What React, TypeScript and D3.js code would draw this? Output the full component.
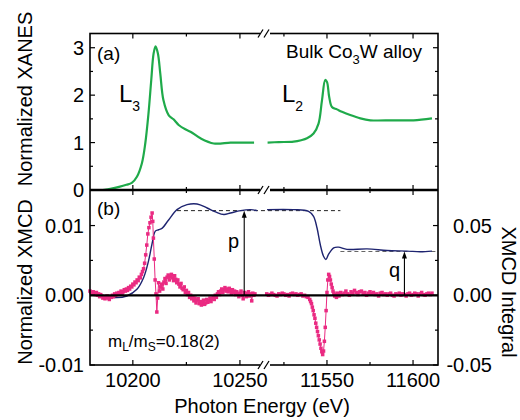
import React from "react";
import * as d3 from "d3";

// ---------- data ----------
// (a) XANES, L3 edge (left segment) and L2 edge (right segment)
const xanesL3: [number, number][] = [
  [10186, 0.0], [10190, 0.03], [10194, 0.07], [10197, 0.11], [10199.5, 0.15], [10201.9, 0.28],
  [10204.2, 0.56], [10205.8, 0.98], [10207.3, 1.61], [10208.6, 2.32], [10209.7, 2.88],
  [10210.6, 3.03], [10211.7, 2.88], [10212.8, 2.46], [10214.3, 1.89], [10216.7, 1.58],
  [10219, 1.49], [10221.4, 1.37], [10224.5, 1.28], [10226.9, 1.23], [10231.6, 1.09],
  [10237.8, 0.98], [10245.6, 1.0], [10251, 1.0], [10256.6, 1.0],
];
const xanesL2: [number, number][] = [
  [11515.5, 1.0], [11522, 1.01], [11530.6, 1.02], [11535, 1.05], [11538.4, 1.09], [11542.2, 1.19],
  [11545.1, 1.4], [11547.1, 1.89], [11549, 2.32], [11550, 2.28], [11551.3, 1.96],
  [11552.9, 1.75], [11555.8, 1.7], [11558.7, 1.65], [11563.5, 1.58], [11569.4, 1.51],
  [11575.2, 1.47], [11588.7, 1.47], [11600.3, 1.47], [11611, 1.51],
];

// (b) XMCD integral (right axis)
const integL3: [number, number][] = [
  [10187.8, -0.0005], [10192.5, -0.0017], [10197.2, -0.0005], [10201.9, 0.0043], [10205, 0.0126],
  [10207.3, 0.0245], [10208.9, 0.0364], [10210.5, 0.046], [10212, 0.047], [10213.6, 0.048],
  [10216.7, 0.054], [10220.6, 0.0614], [10225.3, 0.065], [10230, 0.0655], [10234.7, 0.0626],
  [10238.6, 0.0598], [10242.5, 0.0579], [10245.6, 0.059], [10250.3, 0.0607], [10255, 0.0614],
  [10258.1, 0.0607],
];
const integL2: [number, number][] = [
  [11515.2, 0.0614], [11530.6, 0.0614], [11539.3, 0.0602], [11542.2, 0.0566], [11544.2, 0.0484],
  [11546.1, 0.0364], [11548, 0.028], [11549.4, 0.0257], [11550.9, 0.0293], [11553.9, 0.034],
  [11556.7, 0.0345], [11561.6, 0.0329], [11573.3, 0.0333], [11584.9, 0.0321], [11596.5, 0.0317],
  [11604.2, 0.0312], [11611, 0.0317],
];

// (b) XMCD (left axis)
const xmcdL3: [number, number][] = [
  [10180, 0.0006], [10180.5, 0.0004], [10181, 0.0002], [10181.5, 0.0005], [10182, 0.0003],
  [10182.5, 0.0001], [10183, 0.0004], [10183.5, 0.0], [10184, 0.0002], [10184.5, -0.0002],
  [10185, 0.0001], [10185.5, -0.0001], [10186, -0.0004], [10186.5, -0.0002], [10187, -0.0005],
  [10187.5, -0.0003], [10188, -0.0001], [10188.5, -0.0004], [10189, -0.0006], [10189.5, -0.0002],
  [10190, -0.0003], [10190.5, 0.0], [10191, -0.0002], [10191.5, 0.0002], [10192, 0.0],
  [10192.5, 0.0003], [10193, 0.0001], [10193.5, 0.0004], [10194, 0.0002], [10194.5, 0.0006],
  [10195, 0.0003], [10195.5, 0.0005], [10196, 0.0008], [10196.5, 0.0006], [10197, 0.0009],
  [10197.5, 0.0007], [10198, 0.0011], [10198.5, 0.0009], [10199, 0.0013], [10199.5, 0.0012],
  [10200, 0.0016], [10200.5, 0.0015], [10201, 0.0019], [10201.5, 0.0018], [10202, 0.0022],
  [10202.5, 0.0021], [10203, 0.0026], [10203.5, 0.0025], [10204, 0.003], [10204.5, 0.0034],
  [10205, 0.0038], [10205.5, 0.0046], [10206, 0.0058], [10206.5, 0.0072], [10207, 0.0088],
  [10207.5, 0.0097], [10208, 0.0104], [10208.5, 0.0112], [10209, 0.0118], [10209.3, 0.0106],
  [10209.6, 0.0082], [10210, 0.0052], [10210.4, 0.0022], [10210.8, 0.0002], [10211.2, -0.0024],
  [10211.6, -0.0004], [10212, 0.0018], [10212.5, 0.0006], [10213, 0.0012], [10213.5, 0.0016],
  [10214, 0.0009], [10214.5, 0.0019], [10215, 0.0024], [10215.5, 0.0017], [10216, 0.0026],
  [10216.5, 0.0029], [10217, 0.0022], [10217.5, 0.0027], [10218, 0.003], [10218.5, 0.0025],
  [10219, 0.0021], [10219.5, 0.0028], [10220, 0.0023], [10220.5, 0.0018], [10221, 0.0022],
  [10221.5, 0.0016], [10222, 0.0012], [10222.5, 0.0017], [10223, 0.001], [10223.5, 0.0008],
  [10224, 0.0012], [10224.5, 0.0004], [10225, 0.0007], [10225.5, 0.0001], [10226, 0.0004],
  [10226.5, -0.0003], [10227, 0.0], [10227.5, -0.0005], [10228, -0.0002], [10228.5, -0.0008],
  [10229, -0.0004], [10229.5, -0.0011], [10230, -0.0007], [10230.5, -0.0005], [10231, -0.0012],
  [10231.5, -0.0009], [10232, -0.0014], [10232.5, -0.001], [10233, -0.0007], [10233.5, -0.0013],
  [10234, -0.0011], [10234.5, -0.0006], [10235, -0.001], [10235.5, -0.0008], [10236, -0.0004],
  [10236.5, -0.0009], [10237, -0.0005], [10237.5, -0.0002], [10238, -0.0006], [10238.5, 0.0],
  [10239, -0.0003], [10239.5, 0.0002], [10240, 0.0005], [10240.5, 0.0001], [10241, 0.0006],
  [10241.5, 0.0009], [10242, 0.0004], [10242.5, 0.0008], [10243, 0.0011], [10243.5, 0.0006],
  [10244, 0.0009], [10244.5, 0.0005], [10245, 0.001], [10245.5, 0.0007], [10246, 0.0003],
  [10246.5, 0.0008], [10247, 0.0004], [10247.5, 0.0006], [10248, 0.0001], [10248.5, 0.0005],
  [10249, 0.0002], [10249.5, -0.0002], [10250, 0.0003], [10250.5, 0.0006], [10251, 0.0],
  [10251.5, -0.0005], [10252, 0.0004], [10252.5, 0.0001], [10253, -0.0002], [10253.5, 0.0003],
  [10254, 0.0005], [10254.5, -0.0001], [10255, 0.0002], [10255.5, -0.0008], [10256, 0.0003],
  [10256.5, 0.0], [10257, 0.0002],
];
const xmcdL2: [number, number][] = [
  [11515, 0.0002], [11516, 0.0], [11517, 0.0001], [11518, 0.0003], [11519, 0.0001], [11520, 0.0],
  [11521, -0.0001], [11522, 0.0002], [11523, 0.0001], [11524, 0.0003], [11525, 0.0002], [11526, 0.0],
  [11527, 0.0001], [11528, -0.0001], [11529, 0.0002], [11530, 0.0003], [11531, 0.0001], [11532, 0.0002],
  [11533, 0.0], [11534, 0.0001], [11535, 0.0002], [11536, -0.0001], [11537, 0.0], [11538, -0.0002],
  [11539, -0.0003], [11540, -0.0006], [11540.5, -0.0009], [11541, -0.0012], [11541.5, -0.0017],
  [11542, -0.0022], [11542.5, -0.0028], [11543, -0.0033], [11543.5, -0.004], [11544, -0.0046],
  [11544.5, -0.0052], [11545, -0.0058], [11545.5, -0.0064], [11546, -0.007], [11546.5, -0.0076],
  [11547, -0.0081], [11547.5, -0.0085], [11548, -0.008], [11548.5, -0.0066], [11549, -0.0046],
  [11549.5, -0.0022], [11550, 0.0004], [11550.5, 0.0022], [11551, 0.003], [11551.5, 0.0027],
  [11552, 0.0022], [11552.5, 0.0016], [11553, 0.0011], [11553.5, 0.0006], [11554, 0.0003],
  [11554.5, -0.0001], [11555, 0.0001], [11555.5, -0.0003], [11556, 0.0003], [11557, -0.0001],
  [11558, 0.0004], [11559, 0.0001], [11560, 0.0003], [11561, 0.0006], [11562, 0.0002], [11563, 0.0],
  [11564, 0.0005], [11565, 0.0003], [11566, 0.0007], [11567, 0.0004], [11568, 0.0001], [11569, 0.0005],
  [11570, 0.0006], [11571, 0.0002], [11572, 0.0004], [11573, 0.0], [11574, 0.0003], [11575, 0.0005],
  [11576, 0.0002], [11577, 0.0004], [11578, 0.0001], [11579, 0.0002], [11580, -0.0001], [11581, 0.0003],
  [11582, 0.0004], [11583, 0.0001], [11584, 0.0002], [11585, 0.0], [11586, 0.0002], [11587, 0.0003],
  [11588, 0.0], [11589, -0.0001], [11590, 0.0002], [11591, 0.0001], [11592, 0.0003], [11593, 0.0],
  [11594, 0.0002], [11595, 0.0001], [11596, -0.0001], [11597, 0.0002], [11598, 0.0003], [11599, 0.0],
  [11600, 0.0001], [11601, 0.0003], [11602, 0.0002], [11603, -0.0001], [11604, 0.0002], [11605, 0.0004],
  [11606, 0.0001], [11607, 0.0], [11608, 0.0002], [11609, 0.0003], [11610, 0.0001], [11611, 0.0003],
];

// reference levels / arrows (integral units)
const pLevel = 0.0607;
const qLevel = 0.0314;
const pArrowE = 10252;
const qArrowE = 11595;
const pDashFrom = 10220.6;
const pDashToR = 11557.8;
const qDashFrom = 11557.8;

// ticks
const xTicksL = [10200, 10250];
const xMinorL = [10225];
const xTicksR = [11550, 11600];
const xMinorR = [11525, 11575];
const yTopTicks = [0, 1, 2, 3];
const yTopMinor = [0.5, 1.5, 2.5];
const yBotTicks = [-0.01, 0, 0.01];
const yBotMinor = [-0.005, 0.005];
const yBotRTicks = [-0.05, 0, 0.05];
const yBotRMinor = [-0.025, 0.025];

const FONT = "'Liberation Sans', Arial, Helvetica, sans-serif";
const GREEN = "#1faa4a";
const NAVY = "#1e2470";
const PINK = "#ea2a82";

export default function App() {
  const L = 90, R = 438, BRK = 265;
  const T1 = 33.5, MID = 190, B2 = 365;

  const xL = d3.scaleLinear().domain([10180, 10261.7]).range([L, BRK]);
  const xR = d3.scaleLinear().domain([11514, 11614.5]).range([BRK, R]);
  const yTop = d3.scaleLinear().domain([0, 3.3]).range([MID, T1]);
  const yB = d3.scaleLinear().domain([-0.01, 0.0151]).range([B2, MID]);
  const yBR = d3.scaleLinear().domain([-0.05, 0.0755]).range([B2, MID]);

  const curve = d3.curveCatmullRom.alpha(0.5);
  const lineTopL = d3.line<[number, number]>().x(d => xL(d[0])).y(d => yTop(d[1])).curve(curve);
  const lineTopR = d3.line<[number, number]>().x(d => xR(d[0])).y(d => yTop(d[1])).curve(curve);
  const lineIntL = d3.line<[number, number]>().x(d => xL(d[0])).y(d => yBR(d[1])).curve(curve);
  const lineIntR = d3.line<[number, number]>().x(d => xR(d[0])).y(d => yBR(d[1])).curve(curve);
  const lineXL = d3.line<[number, number]>().x(d => xL(d[0])).y(d => yB(d[1]));
  const lineXR = d3.line<[number, number]>().x(d => xR(d[0])).y(d => yB(d[1]));

  const xMaj = [...xTicksL.map(v => xL(v)), ...xTicksR.map(v => xR(v))];
  const xMin = [...xMinorL.map(v => xL(v)), ...xMinorR.map(v => xR(v))];

  const brk = (y: number, key: string) => (
    <g key={key}>
      <rect x={BRK - 5} y={y - 3} width={10} height={6} fill="#fff" />
      <line x1={BRK - 7} y1={y + 4} x2={BRK - 2} y2={y - 4} stroke="#000" strokeWidth={1.3} />
      <line x1={BRK - 1} y1={y + 4} x2={BRK + 4} y2={y - 4} stroke="#000" strokeWidth={1.3} />
    </g>
  );

  const sq = 3.5;

  return (
    <svg width={520} height={420} style={{ position: "absolute", left: 0, top: 0, background: "#fff" }}
      fontFamily={FONT}>
      {/* ---- panel (a) ---- */}
      <path d={lineTopL(xanesL3) || ""} fill="none" stroke={GREEN} strokeWidth={2.2} />
      <path d={lineTopR(xanesL2) || ""} fill="none" stroke={GREEN} strokeWidth={2.2} />

      {/* ---- panel (b) ---- */}
      <line x1={xL(pDashFrom)} x2={xR(pDashToR)} y1={yBR(pLevel)} y2={yBR(pLevel)} stroke="#222"
        strokeWidth={1} strokeDasharray="4,3" />
      <line x1={xR(qDashFrom)} x2={R} y1={yBR(qLevel)} y2={yBR(qLevel)} stroke="#666"
        strokeWidth={1.2} strokeDasharray="4,3" />
      <path d={lineIntL(integL3) || ""} fill="none" stroke={NAVY} strokeWidth={1.4} />
      <path d={lineIntR(integL2) || ""} fill="none" stroke={NAVY} strokeWidth={1.4} />

      <path d={lineXL(xmcdL3) || ""} fill="none" stroke={PINK} strokeWidth={1} />
      <path d={lineXR(xmcdL2) || ""} fill="none" stroke={PINK} strokeWidth={1} />
      {xmcdL3.map((d, i) => (
        <rect key={"a" + i} x={xL(d[0]) - sq / 2} y={yB(d[1]) - sq / 2} width={sq} height={sq} fill={PINK} />
      ))}
      {xmcdL2.map((d, i) => (
        <rect key={"b" + i} x={xR(d[0]) - sq / 2} y={yB(d[1]) - sq / 2} width={sq} height={sq} fill={PINK} />
      ))}

      {/* zero line */}
      <line x1={L} x2={R} y1={yB(0)} y2={yB(0)} stroke="#000" strokeWidth={2.2} />

      {/* arrows */}
      {[{ e: xL(pArrowE), lv: pLevel }, { e: xR(qArrowE), lv: qLevel }].map((a, i) => (
        <g key={"ar" + i}>
          <line x1={a.e} x2={a.e} y1={yB(0)} y2={yBR(a.lv) + 5} stroke="#000" strokeWidth={1.1} />
          <path d={`M${a.e},${yBR(a.lv)} L${a.e - 2.5},${yBR(a.lv) + 7} L${a.e + 2.5},${yBR(a.lv) + 7} Z`} fill="#000" />
        </g>
      ))}

      {/* frames */}
      <rect x={L} y={T1} width={R - L} height={B2 - T1} fill="none" stroke="#000" strokeWidth={1.6} />
      <line x1={L} x2={R} y1={MID} y2={MID} stroke="#000" strokeWidth={2.6} />

      {/* x ticks */}
      {xMaj.map((x, i) => (
        <g key={"xm" + i} stroke="#000" strokeWidth={1.2}>
          <line x1={x} x2={x} y1={T1} y2={T1 + 5} />
          <line x1={x} x2={x} y1={MID - 5} y2={MID + 5} />
          <line x1={x} x2={x} y1={B2} y2={B2 - 5} />
        </g>
      ))}
      {xMin.map((x, i) => (
        <g key={"xn" + i} stroke="#000" strokeWidth={1.2}>
          <line x1={x} x2={x} y1={T1} y2={T1 + 3} />
          <line x1={x} x2={x} y1={MID - 3} y2={MID + 3} />
          <line x1={x} x2={x} y1={B2} y2={B2 - 3} />
        </g>
      ))}

      {/* y ticks */}
      {yTopTicks.map((v, i) => (
        <g key={"yt" + i} stroke="#000" strokeWidth={1.2}>
          <line x1={L} x2={L + 5} y1={yTop(v)} y2={yTop(v)} />
          <line x1={R} x2={R - 5} y1={yTop(v)} y2={yTop(v)} />
        </g>
      ))}
      {yTopMinor.map((v, i) => (
        <g key={"ytn" + i} stroke="#000" strokeWidth={1.2}>
          <line x1={L} x2={L + 3} y1={yTop(v)} y2={yTop(v)} />
          <line x1={R} x2={R - 3} y1={yTop(v)} y2={yTop(v)} />
        </g>
      ))}
      {yBotTicks.map((v, i) => (
        <line key={"yb" + i} x1={L} x2={L + 5} y1={yB(v)} y2={yB(v)} stroke="#000" strokeWidth={1.2} />
      ))}
      {yBotMinor.map((v, i) => (
        <line key={"ybn" + i} x1={L} x2={L + 3} y1={yB(v)} y2={yB(v)} stroke="#000" strokeWidth={1.2} />
      ))}
      {yBotRTicks.map((v, i) => (
        <line key={"ybr" + i} x1={R} x2={R - 5} y1={yBR(v)} y2={yBR(v)} stroke="#000" strokeWidth={1.2} />
      ))}
      {yBotRMinor.map((v, i) => (
        <line key={"ybrn" + i} x1={R} x2={R - 3} y1={yBR(v)} y2={yBR(v)} stroke="#000" strokeWidth={1.2} />
      ))}

      {/* breaks */}
      {brk(T1, "k1")}
      {brk(MID, "k2")}
      {brk(B2, "k3")}

      {/* tick labels */}
      <g fontSize={20} fill="#000">
        {yTopTicks.map((v, i) => (
          <text key={"tl" + i} x={84} y={yTop(v) + 7} textAnchor="end">{d3.format("d")(v)}</text>
        ))}
        {yBotTicks.map((v, i) => (
          <text key={"bl" + i} x={84} y={yB(v) + 7} textAnchor="end">{d3.format(".2f")(v).replace("−", "-")}</text>
        ))}
        {yBotRTicks.map((v, i) => (
          <text key={"br" + i} x={492} y={yBR(v) + 7} textAnchor="end">{d3.format(".2f")(v).replace("−", "-")}</text>
        ))}
        {xTicksL.map((v, i) => (
          <text key={"xl" + i} x={xL(v)} y={387} textAnchor="middle">{v}</text>
        ))}
        {xTicksR.map((v, i) => (
          <text key={"xr" + i} x={xR(v)} y={387} textAnchor="middle">{v}</text>
        ))}
      </g>

      {/* axis titles */}
      <g fontSize={20} fill="#000">
        <text transform="translate(32,99) rotate(-90)" textAnchor="middle">Normalized XANES</text>
        <text transform="translate(32,282) rotate(-90)" textAnchor="middle">Normalized XMCD</text>
        <text transform="translate(502,292) rotate(90)" textAnchor="middle">XMCD Integral</text>
        <text x={262} y={413} textAnchor="middle">Photon Energy (eV)</text>
      </g>

      {/* annotations */}
      <g fill="#000">
        <text x={97} y={60} fontSize={19}>(a)</text>
        <text x={97} y={215} fontSize={19}>(b)</text>
        <text x={286} y={58} fontSize={19}>
          Bulk Co<tspan fontSize={13} dy={6}>3</tspan><tspan dy={-6}>W alloy</tspan>
        </text>
        <text x={119} y={102} fontSize={24}>
          L<tspan fontSize={14} dy={9}>3</tspan>
        </text>
        <text x={282} y={102} fontSize={24}>
          L<tspan fontSize={14} dy={9}>2</tspan>
        </text>
        <text x={228} y={248} fontSize={20}>p</text>
        <text x={389} y={277} fontSize={20}>q</text>
        <text x={108} y={347} fontSize={17}>
          m<tspan fontSize={12} dy={4}>L</tspan><tspan dy={-4}>/m</tspan><tspan fontSize={12} dy={4}>S</tspan><tspan dy={-4}>=0.18(2)</tspan>
        </text>
      </g>
    </svg>
  );
}
